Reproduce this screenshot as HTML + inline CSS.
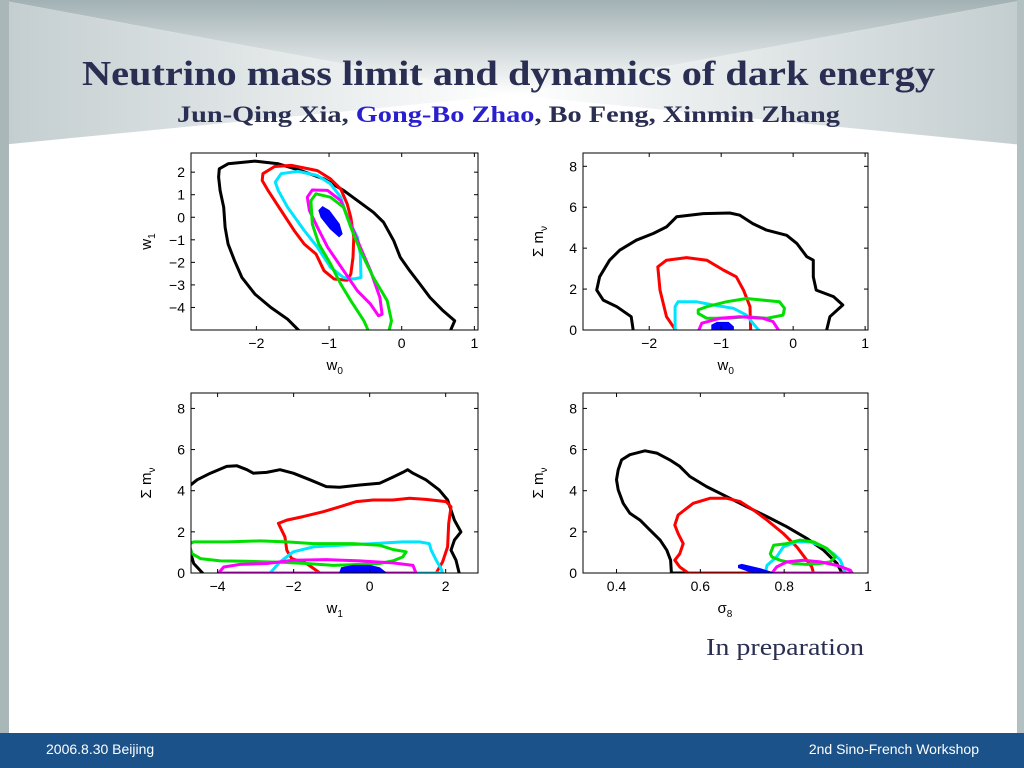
<!DOCTYPE html>
<html><head><meta charset="utf-8"><style>
html,body{margin:0;padding:0;background:#fff}
svg{display:block}
</style></head><body>
<svg id="s" width="1024" height="768" viewBox="0 0 1024 768" xmlns="http://www.w3.org/2000/svg" font-family="Liberation Sans, sans-serif">
<defs>
<linearGradient id="gTop" x1="0" y1="0" x2="0" y2="1"><stop offset="0" stop-color="#a2b1b4"/><stop offset="1" stop-color="#ffffff"/></linearGradient>
<linearGradient id="gL" x1="0" y1="0" x2="1" y2="0"><stop offset="0" stop-color="#c3cdcf"/><stop offset="1" stop-color="#ffffff"/></linearGradient>
<linearGradient id="gR" x1="1" y1="0" x2="0" y2="0"><stop offset="0" stop-color="#c3cdcf"/><stop offset="1" stop-color="#ffffff"/></linearGradient>
</defs>
<g>
<rect x="0" y="0" width="1024" height="145" fill="#fff"/>
<polygon points="0,0 1024,0 512,95" fill="url(#gTop)"/>
<polygon points="0,0 512,95 0,145" fill="url(#gL)"/>
<polygon points="1024,0 512,95 1024,145" fill="url(#gR)"/>
<polygon points="10,145 1014,145 512,95" fill="#fff"/>
</g>
<rect x="0" y="0" width="9" height="735" fill="#a9b7b9"/>
<rect x="1017" y="0" width="7" height="735" fill="#b3c0c2"/>
<text x="82" y="85" font-family="Liberation Serif, serif" font-size="35" font-weight="bold" fill="#2a2e52" textLength="853" lengthAdjust="spacingAndGlyphs">Neutrino mass limit  and dynamics of  dark energy</text>
<text x="177" y="122" font-family="Liberation Serif, serif" font-size="23" font-weight="bold" fill="#2a2e52" textLength="663" lengthAdjust="spacingAndGlyphs">Jun-Qing Xia, <tspan fill="#2a1fcf">Gong-Bo Zhao</tspan>, Bo Feng, Xinmin Zhang</text>
<text x="706" y="655" font-family="Liberation Serif, serif" font-size="24" fill="#2a2e52" textLength="158" lengthAdjust="spacingAndGlyphs">In preparation</text>
<rect x="0" y="733" width="1024" height="35" fill="#1b528a"/>
<text x="46" y="754" font-size="14" fill="#fff">2006.8.30 Beijing</text>
<text x="979" y="754" font-size="14" fill="#fff" text-anchor="end">2nd Sino-French Workshop</text>
<g id="plots"></g>
</svg>
<script>
// ---- data (contour vertices in data coordinates) ----
const p1Black=[[-2.51,2.15],[-2.39,2.37],[-2.02,2.49],[-1.70,2.37],[-1.39,2.07],[-1.07,1.70],[-0.80,1.19],[-0.61,0.74],[-0.39,0.22],[-0.25,-0.22],[-0.11,-1.04],[-0.02,-1.78],[0.11,-2.37],[0.25,-2.96],[0.39,-3.56],[0.57,-4.15],[0.73,-4.59],[0.66,-5.1],[-1.39,-5.1],[-1.57,-4.52],[-1.80,-4.0],[-2.02,-3.41],[-2.20,-2.67],[-2.30,-1.93],[-2.39,-1.19],[-2.43,-0.44],[-2.45,0.44],[-2.50,1.19],[-2.52,1.78]];
const p1Red=[[-1.91,1.93],[-1.75,2.25],[-1.52,2.30],[-1.16,2.07],[-0.98,1.70],[-0.84,1.26],[-0.75,0.59],[-0.70,0],[-0.66,-0.89],[-0.67,-1.78],[-0.70,-2.52],[-0.75,-2.79],[-0.93,-2.74],[-1.07,-2.37],[-1.18,-1.63],[-1.34,-1.19],[-1.48,-0.59],[-1.66,0.30],[-1.84,1.19],[-1.92,1.63]];
const p1Cyan=[[-1.74,1.56],[-1.66,1.93],[-1.43,2.04],[-1.16,1.85],[-0.98,1.48],[-0.84,0.89],[-0.75,0],[-0.61,-0.89],[-0.57,-1.63],[-0.56,-2.67],[-0.66,-2.74],[-0.80,-2.67],[-0.98,-2.22],[-1.16,-1.33],[-1.34,-0.59],[-1.57,0.44],[-1.70,1.19]];
const p1Magenta=[[-1.30,0.89],[-1.23,1.21],[-1.02,1.19],[-0.84,0.74],[-0.70,-0.30],[-0.57,-1.33],[-0.43,-2.37],[-0.30,-3.56],[-0.27,-4.30],[-0.32,-4.37],[-0.43,-3.85],[-0.61,-3.26],[-0.80,-2.37],[-1.02,-1.33],[-1.16,-0.44],[-1.27,0.30]];
const p1Green=[[-1.25,0.74],[-1.18,1.04],[-0.98,0.89],[-0.80,0.44],[-0.70,-0.44],[-0.57,-1.48],[-0.39,-2.67],[-0.20,-3.70],[-0.14,-4.59],[-0.18,-5.1],[-0.45,-5.1],[-0.52,-4.59],[-0.70,-3.70],[-0.84,-2.96],[-0.98,-2.07],[-1.14,-1.19],[-1.23,-0.30]];
const p1Blue=[[-1.14,0.30],[-1.09,0.47],[-1.0,0.30],[-0.86,-0.30],[-0.82,-0.74],[-0.86,-0.86],[-0.98,-0.52],[-1.11,0]];

const p2Black=[[-2.22,-0.08],[-2.25,0.65],[-2.45,1.14],[-2.64,1.46],[-2.73,1.95],[-2.69,2.60],[-2.55,3.41],[-2.41,3.90],[-2.18,4.39],[-1.94,4.72],[-1.76,5.04],[-1.62,5.53],[-1.25,5.69],[-0.88,5.72],[-0.74,5.61],[-0.56,5.20],[-0.37,4.88],[-0.09,4.63],[0.05,4.23],[0.19,3.58],[0.28,3.41],[0.28,2.60],[0.32,1.95],[0.56,1.63],[0.69,1.22],[0.51,0.65],[0.46,-0.08]];
const p2Red=[[-1.62,-0.08],[-1.76,0.65],[-1.85,1.95],[-1.88,3.09],[-1.76,3.41],[-1.48,3.54],[-1.20,3.41],[-0.97,2.93],[-0.79,2.60],[-0.69,1.95],[-0.60,1.14],[-0.59,-0.08]];
const p2Cyan=[[-1.64,-0.08],[-1.64,1.14],[-1.60,1.38],[-1.34,1.38],[-1.11,1.22],[-0.83,1.06],[-0.65,0.73],[-0.56,0.33],[-0.46,-0.08]];
const p2Green=[[-1.32,0.98],[-1.20,1.14],[-0.93,1.38],[-0.65,1.54],[-0.19,1.38],[-0.12,1.06],[-0.14,0.73],[-0.37,0.57],[-0.65,0.65],[-0.93,0.57],[-1.20,0.57],[-1.32,0.81]];
const p2Magenta=[[-1.32,-0.08],[-1.27,0.33],[-1.02,0.57],[-0.74,0.65],[-0.42,0.57],[-0.28,0.41],[-0.19,-0.08]];
const p2Blue=[[-1.13,0],[-1.13,0.24],[-1.06,0.37],[-0.90,0.37],[-0.83,0.16],[-0.83,0]];

const p3Black=[[-4.76,4.20],[-4.54,4.53],[-4.19,4.85],[-3.76,5.18],[-3.49,5.21],[-3.23,5.02],[-3.06,4.85],[-2.71,4.89],[-2.36,5.02],[-2.01,4.85],[-1.57,4.53],[-1.14,4.20],[-0.79,4.17],[-0.26,4.28],[0.26,4.36],[0.61,4.66],[0.87,4.89],[1.0,5.02],[1.14,4.85],[1.48,4.53],[1.83,4.04],[2.05,3.55],[2.23,2.57],[2.40,2.0],[2.23,1.60],[2.14,1.11],[2.27,0.62],[2.36,-0.05],[-4.37,-0.05],[-4.63,0.46],[-4.73,1.11],[-4.76,1.76],[-5.2,1.76],[-5.2,4.2]];
const p3Red=[[-1.31,0],[-1.66,0.46],[-2.05,0.70],[-2.18,1.11],[-2.23,1.76],[-2.36,2.25],[-2.40,2.41],[-2.18,2.57],[-1.75,2.74],[-1.22,2.98],[-0.79,3.22],[-0.35,3.47],[0.09,3.55],[0.61,3.55],[1.05,3.63],[1.48,3.58],[2.01,3.47],[2.14,3.22],[2.08,2.41],[2.05,1.27],[1.92,0.54],[1.75,0]];
const p3Cyan=[[-2.62,0],[-2.36,0.54],[-2.01,1.03],[-1.48,1.27],[-0.79,1.35],[0.09,1.43],[0.87,1.51],[1.31,1.51],[1.57,1.43],[1.62,1.11],[1.75,0.62],[1.88,0.21],[1.92,0]];
const p3Green=[[-4.72,1.43],[-4.63,1.51],[-3.76,1.51],[-2.88,1.56],[-2.18,1.51],[-1.48,1.43],[-0.44,1.43],[0.26,1.35],[0.61,1.14],[0.96,1.03],[0.87,0.78],[0.61,0.59],[0.26,0.46],[-0.26,0.42],[-0.96,0.37],[-1.66,0.46],[-2.36,0.52],[-3.23,0.57],[-3.93,0.59],[-4.45,0.70],[-4.67,0.94],[-4.73,1.27]];
const p3Magenta=[[-3.97,0],[-3.84,0.29],[-3.41,0.42],[-2.71,0.46],[-2.01,0.62],[-1.14,0.65],[-0.26,0.59],[0.61,0.49],[1.14,0.37],[1.22,0]];
const p3Blue=[[-0.79,0],[-0.74,0.26],[-0.44,0.37],[0,0.37],[0.26,0.26],[0.44,0]];

const p4Black=[[0.531,0],[0.529,0.62],[0.520,1.11],[0.504,1.60],[0.480,2.08],[0.456,2.57],[0.432,2.90],[0.416,3.39],[0.404,4.04],[0.400,4.53],[0.404,5.02],[0.412,5.50],[0.432,5.75],[0.468,5.94],[0.496,5.83],[0.527,5.50],[0.551,5.18],[0.575,4.69],[0.615,4.20],[0.663,3.71],[0.711,3.22],[0.759,2.74],[0.806,2.25],[0.854,1.68],[0.894,1.11],[0.926,0.46],[0.938,0]];
const p4Red=[[0.571,0],[0.551,0.29],[0.539,0.62],[0.551,0.94],[0.559,1.43],[0.547,1.92],[0.539,2.33],[0.547,2.82],[0.583,3.39],[0.623,3.63],[0.663,3.63],[0.695,3.47],[0.727,3.06],[0.759,2.57],[0.798,1.92],[0.830,1.27],[0.854,0.62],[0.866,0.29],[0.870,0]];
const p4Cyan=[[0.755,0],[0.759,0.37],[0.782,0.78],[0.798,1.27],[0.830,1.51],[0.862,1.51],[0.894,1.27],[0.918,0.94],[0.934,0.62],[0.946,0]];
const p4Green=[[0.767,0.94],[0.775,1.35],[0.806,1.43],[0.838,1.60],[0.870,1.51],[0.902,1.19],[0.922,0.78],[0.910,0.54],[0.886,0.46],[0.854,0.42],[0.822,0.46],[0.790,0.62],[0.771,0.78]];
const p4Magenta=[[0.771,0],[0.782,0.29],[0.806,0.54],[0.846,0.62],[0.886,0.54],[0.926,0.37],[0.958,0.13],[0.962,0]];
const p4Blue=[[0.691,0.37],[0.699,0.42],[0.743,0.21],[0.775,0],[0.727,0],[0.691,0.26]];

const p1XTicks=[-2,-1,0,1], p1YTicks=[-4,-3,-2,-1,0,1,2];
const p2XTicks=[-2,-1,0,1], mYTicks=[0,2,4,6,8];
const p3XTicks=[-4,-2,0,2];
const p4XTicks=[0.4,0.6,0.8,1];
const p4XTickLabels=["0.4","0.6","0.8","1"];

const NS="http://www.w3.org/2000/svg";
const root=document.getElementById('plots');
function mk(tag,attrs,parent){const e=document.createElementNS(NS,tag);for(const k in attrs)e.setAttribute(k,attrs[k]);(parent||root).appendChild(e);return e;}

const plots=[
 {id:'w0-w1',box:[191,153,478,330],xr:[-2.9,1.05],yr:[-5,2.85],xt:p1XTicks,yt:p1YTicks,xl:'w',xs:'0',yl:'w',ys:'1',
  series:[['black',p1Black,0],['red',p1Red,0],['cyan',p1Cyan,0],['magenta',p1Magenta,0],['green',p1Green,0],['blue',p1Blue,1]]},
 {id:'w0-mnu',box:[583,153,868,330],xr:[-2.92,1.04],yr:[0,8.65],xt:p2XTicks,yt:mYTicks,xl:'w',xs:'0',yl:'Σ m',ys:'ν',
  series:[['black',p2Black,0],['red',p2Red,0],['cyan',p2Cyan,0],['green',p2Green,0],['magenta',p2Magenta,0],['blue',p2Blue,1]]},
 {id:'w1-mnu',box:[191,393,478,573],xr:[-4.7,2.85],yr:[0,8.75],xt:p3XTicks,yt:mYTicks,xl:'w',xs:'1',yl:'Σ m',ys:'ν',
  series:[['black',p3Black,0],['red',p3Red,0],['cyan',p3Cyan,0],['green',p3Green,0],['magenta',p3Magenta,0],['blue',p3Blue,1]]},
 {id:'sigma8-mnu',box:[583,393,868,573],xr:[0.32,1.0],yr:[0,8.75],xt:p4XTicks,xtl:p4XTickLabels,yt:mYTicks,xl:'σ',xs:'8',yl:'Σ m',ys:'ν',
  series:[['black',p4Black,0],['red',p4Red,0],['cyan',p4Cyan,0],['green',p4Green,0],['magenta',p4Magenta,0],['blue',p4Blue,1]]}
];
const colors={black:'#000',red:'#ff0000',cyan:'#00e5ff',magenta:'#ff00ff',green:'#00e000',blue:'#0000ff'};

plots.forEach((p,pi)=>{
  const [L,T,R,B]=p.box;
  const sx=v=>L+(v-p.xr[0])/(p.xr[1]-p.xr[0])*(R-L);
  const sy=v=>B-(v-p.yr[0])/(p.yr[1]-p.yr[0])*(B-T);
  const g=mk('g',{});
  
  
  const cp=mk('clipPath',{id:'cp'+pi},g);
  mk('rect',{x:L,y:T,width:R-L,height:B-T},cp);
  const cg=mk('g',{'clip-path':'url(#cp'+pi+')'},g);
  p.series.forEach(s=>{
    const d=s[1].map((pt,i)=>(i?'L':'M')+sx(pt[0]).toFixed(1)+','+sy(pt[1]).toFixed(1)).join('')+'Z';
    const path=mk('path',{d:d,fill:s[2]?colors[s[0]]:'none',stroke:colors[s[0]],'stroke-width':s[2]?1:3,'stroke-linejoin':'round'},cg);
    
    
  });
  const frame=mk('rect',{x:L,y:T,width:R-L,height:B-T,fill:'none',stroke:'#000','stroke-width':1},g);
  
  
  p.xt.forEach((v,i)=>{
    const x=sx(v);
    mk('line',{x1:x,y1:B,x2:x,y2:B-4,stroke:'#000'},g);
    mk('line',{x1:x,y1:T,x2:x,y2:T+4,stroke:'#000'},g);
    const t=mk('text',{x:x,y:B+18,'font-size':14,'text-anchor':'middle',fill:'#000'},g);
    t.textContent=p.xtl?p.xtl[i]:String(v).replace('-','−');
    
    
  });
  p.yt.forEach(v=>{
    const y=sy(v);
    mk('line',{x1:L,y1:y,x2:L+4,y2:y,stroke:'#000'},g);
    mk('line',{x1:R,y1:y,x2:R-4,y2:y,stroke:'#000'},g);
    const t=mk('text',{x:L-6,y:y+5,'font-size':14,'text-anchor':'end',fill:'#000'},g);
    t.textContent=String(v).replace('-','−');
    
    
  });
  const xl=mk('text',{x:(L+R)/2-8,y:B+40,'font-size':15,fill:'#000'},g);
  
  
  xl.textContent=p.xl;
  const sub=mk('tspan',{'font-size':10,dy:4},xl); sub.textContent=p.xs;
  const yl=mk('text',{x:0,y:0,'font-size':15,fill:'#000',transform:'translate('+(L-40)+','+((T+B)/2)+') rotate(-90)','text-anchor':'middle'},g);
  
  
  yl.textContent=p.yl;
  const ysub=mk('tspan',{'font-size':10,dy:4},yl); ysub.textContent=p.ys;
});
</script>
</body></html>
